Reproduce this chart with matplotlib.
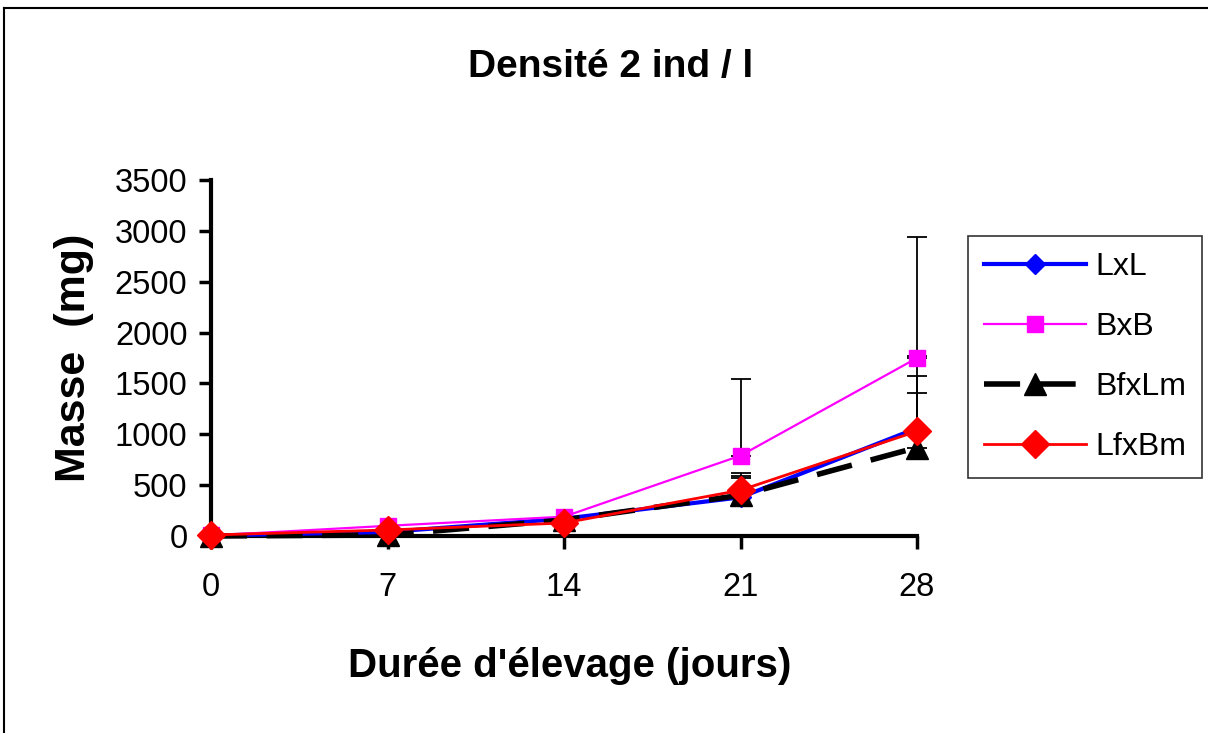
# Masse vs duree d'elevage, densite 2 ind / l
import matplotlib
matplotlib.use('Agg')
import matplotlib.pyplot as plt
from matplotlib.lines import Line2D

days = [0, 7, 14, 21, 28]

lxl = [5, 40, 170, 380, 1060]
bxb = [5, 100, 190, 790, 1750]
bfxlm = [0, 10, 157, 400, 870]
lfxbm = [10, 59, 128, 450, 1030]

# upper error bars (only visible ones)
lxl_err = [0, 0, 0, 210, 710]
bxb_err = [0, 0, 0, 750, 1190]
bfxlm_err = [0, 0, 0, 170, 535]
lfxbm_err = [0, 0, 0, 170, 545]

y_ticks = [0, 500, 1000, 1500, 2000, 2500, 3000, 3500]

plt.rcParams['font.family'] = ['Liberation Sans', 'DejaVu Sans']

W, H = 1208, 733
fig = plt.figure(figsize=(W / 100, H / 100), dpi=100, facecolor='w')
ax = fig.add_axes([211 / W, 1 - 536 / H, (917 - 211) / W, (536 - 180) / H])

# error bars first, behind the markers
for vals, errs in [(lxl, lxl_err), (bxb, bxb_err), (bfxlm, bfxlm_err), (lfxbm, lfxbm_err)]:
    eb = ax.errorbar(days, vals, yerr=[[0] * len(errs), errs], fmt='none', ecolor='k',
                     elinewidth=1.3, capsize=7, capthick=1.3, zorder=1)
    for art in list(eb.lines[1]) + list(eb.lines[2]):
        art.set_clip_on(False)

ax.plot(days, lxl, color='#0000ff', lw=3, marker='D', ms=10, mfc='#0000ff', mec='#0000ff',
        label='LxL', clip_on=False, zorder=3)
ax.plot(days, bxb, color='#ff00ff', lw=1.6, marker='s', ms=11, mfc='#ff00ff', mec='#ff00ff',
        label='BxB', clip_on=False, zorder=3)
ax.plot(days, bfxlm, color='k', lw=4, dashes=(6.5, 3.5), marker='^', ms=16, mfc='k', mec='k',
        label='BfxLm', clip_on=False, zorder=3)
ax.plot(days, lfxbm, color='#ff0000', lw=2, marker='D', ms=14, mfc='#ff0000', mec='#ff0000',
        label='LfxBm', clip_on=False, zorder=4)

ax.set_xlim(0, 28)
ax.set_ylim(0, 3500)
ax.set_xticks(days)
ax.set_yticks(y_ticks)
ax.tick_params(axis='both', direction='out', length=9, width=2.5, labelsize=23.5)
ax.tick_params(axis='y', pad=8)
ax.tick_params(axis='x', pad=17)
for side in ['top', 'right']:
    ax.spines[side].set_visible(False)
for side in ['left', 'bottom']:
    ax.spines[side].set_linewidth(3)

fig.text(611 / W, 1 - 77 / H, 'Densité 2 ind / l', ha='center', va='baseline',
         fontsize=28, fontweight='bold')
fig.text(570 / W, 1 - 677 / H, "Durée d'élevage (jours)", ha='center', va='baseline',
         fontsize=29, fontweight='bold')
fig.text(74 / W, 1 - 358 / H, 'Masse  (mg)', ha='center', va='center', rotation=90,
         fontsize=31, fontweight='bold')

leg = ax.legend(loc='upper left', bbox_to_anchor=(968 / W, 1 - 236 / H),
                bbox_transform=fig.transFigure, fontsize=23, frameon=True, fancybox=False,
                edgecolor='k', handlelength=3.2, handletextpad=0.28, labelspacing=0.94,
                borderpad=0.5, borderaxespad=0)
leg.get_frame().set_linewidth(1.2)

# outer chart border
fig.add_artist(Line2D([4 / W, 4 / W], [0, 1 - 8 / H], color='k', lw=1.5, transform=fig.transFigure))
fig.add_artist(Line2D([4 / W, 1], [1 - 8 / H, 1 - 8 / H], color='k', lw=1.5, transform=fig.transFigure))

plt.savefig('out.png', dpi=100)
plt.close()
